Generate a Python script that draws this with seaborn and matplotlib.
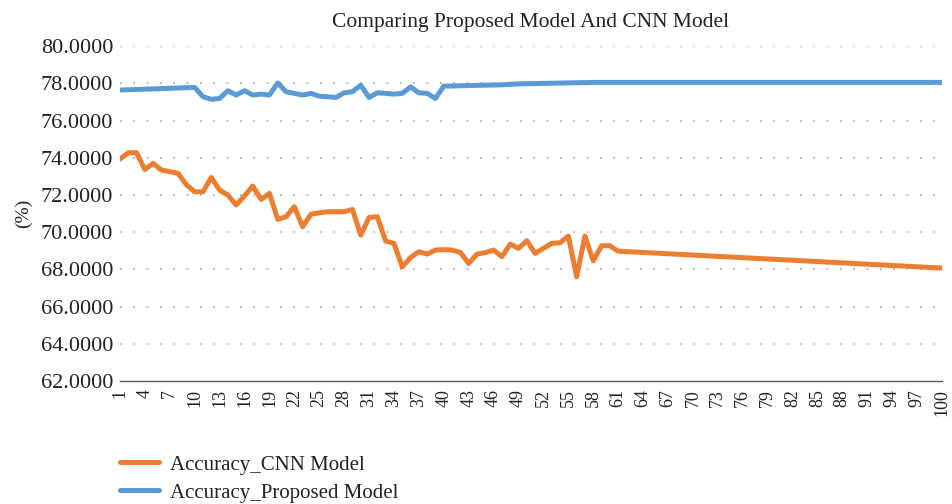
import pandas as pd
import matplotlib.pyplot as plt
import seaborn as sns

# values
cnn_x = list(range(1, 62)) + [100]
cnn_acc = [73.93, 74.27, 74.27, 73.37, 73.70, 73.34, 73.25, 73.16, 72.55, 72.17,
           72.17, 72.94, 72.26, 71.99, 71.46, 71.95, 72.48, 71.76, 72.09, 70.69,
           70.83, 71.37, 70.29, 70.96, 71.04, 71.10, 71.10, 71.10, 71.22, 69.84,
           70.79, 70.83, 69.52, 69.40, 68.14, 68.64, 68.95, 68.82, 69.04, 69.06,
           69.04, 68.91, 68.32, 68.82, 68.90, 69.04, 68.68, 69.36, 69.13, 69.54,
           68.86, 69.13, 69.40, 69.43, 69.79, 67.60, 69.79, 68.46, 69.27, 69.27,
           68.98, 68.07]

prop_x = [1, 10] + list(range(11, 41)) + [47, 49, 58, 100]
prop_acc = [77.64, 77.78,
            77.28, 77.14, 77.19, 77.60, 77.37, 77.60, 77.37, 77.42, 77.37, 78.02,
            77.55, 77.46, 77.37, 77.46, 77.31, 77.28, 77.24, 77.49, 77.55, 77.90,
            77.24, 77.49, 77.46, 77.42, 77.46, 77.81, 77.49, 77.46, 77.19, 77.85,
            77.92, 77.97, 78.05, 78.05]

series_names = ['Accuracy_CNN Model', 'Accuracy_Proposed Model']
colors = ['#ED7D31', '#5B9BD5']
y_ticks = [62, 64, 66, 68, 70, 72, 74, 76, 78, 80]
x_ticks = list(range(1, 101, 3))

df = pd.concat([
    pd.DataFrame({'x': cnn_x, 'acc': cnn_acc, 'series': series_names[0]}),
    pd.DataFrame({'x': prop_x, 'acc': prop_acc, 'series': series_names[1]}),
])

sns.set_style('white')
plt.rcParams['font.family'] = ['Liberation Serif', 'DejaVu Serif']

fig = plt.figure(figsize=(9.52, 5.04), dpi=100)
ax = fig.add_axes([0.126, 0.244, 0.8635, 0.6645])

for y in y_ticks[1:]:
    ax.axhline(y, color='#a6a6a6', lw=1.2, linestyle=(0, (1, 7)), zorder=0)

sns.lineplot(data=df, x='x', y='acc', hue='series', hue_order=series_names,
             palette=colors, linewidth=3.6, ax=ax, sort=True)

ax.set_xlim(1, 100)
ax.set_ylim(62, 80)
ax.set_yticks(y_ticks)
ax.set_yticklabels(['%.4f' % v for v in y_ticks], fontsize=16, color='#222222')
ax.set_xticks(x_ticks)
ax.set_xticklabels([str(v) for v in x_ticks], rotation=90, fontsize=13, color='#222222')
ax.tick_params(axis='y', length=0, pad=5)
ax.tick_params(axis='x', length=0, pad=6)

for s in ['top', 'right', 'left']:
    ax.spines[s].set_visible(False)
ax.spines['bottom'].set_color('#595959')
ax.spines['bottom'].set_linewidth(1.0)

ax.set_xlabel('')
ax.set_ylabel('(%)', fontsize=14, color='#222222', labelpad=6)
ax.set_title('Comparing Proposed Model And CNN Model', fontsize=15.5, color='#222222', pad=14)

handles, labels = ax.get_legend_handles_labels()
ax.get_legend().remove()
fig.legend(handles, labels, loc='center left', bbox_to_anchor=(0.106, 0.05),
           frameon=False, fontsize=15, handlelength=1.9, handletextpad=0.5,
           labelspacing=0.4, labelcolor='#222222')

plt.savefig('out.png', dpi=100)
